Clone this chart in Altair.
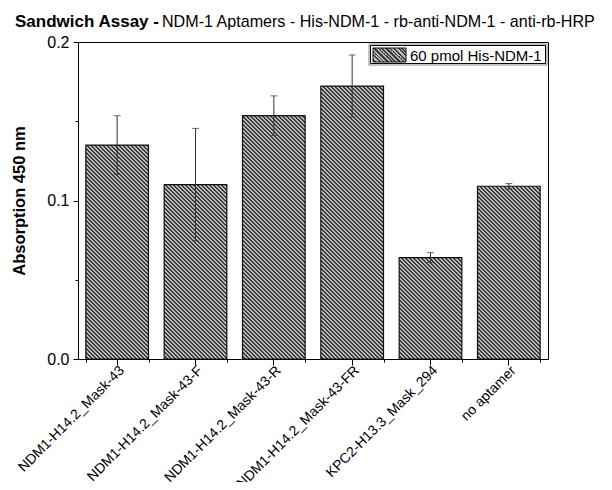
import altair as alt
import pandas as pd

# ---------------- data ----------------
categories = [
    "NDM1-H14.2_Mask-43",
    "NDM1-H14.2_Mask-43-F",
    "NDM1-H14.2_Mask-43-R",
    "NDM1-H14.2_Mask-43-FR",
    "KPC2-H13.3_Mask_294",
    "no aptamer",
]
values = [0.135, 0.110, 0.1535, 0.1722, 0.0640, 0.1090]
errors = [0.0185, 0.0355, 0.0125, 0.0196, 0.0031, 0.0017]
y_ticks = [0.0, 0.1, 0.2]
y_minor = [0.05, 0.15]
series_name = "60 pmol His-NDM-1"
title_bold = "Sandwich Assay -"
title_rest = "NDM-1 Aptamers - His-NDM-1 - rb-anti-NDM-1 - anti-rb-HRP"
y_title = "Absorption 450 nm"

# ---------------- layout / style ----------------
FONT = "Liberation Sans"
W, H = 470, 317
YMAX = 0.2
PAD_IN, PAD_OUT = 0.2, 0.1
LIGHT, DARK = "#bdbdbd", "#3a3a3a"

df = pd.DataFrame({"cat": categories, "v": values, "e": errors})
df["lo"] = df["v"] - df["e"]
df["hi"] = df["v"] + df["e"]

step = W / (len(categories) - PAD_IN + 2 * PAD_OUT)
bw = step * (1 - PAD_IN)


def hatch(w, h, period=4.0, dark=0.5):
    """45-degree '\\' stripes as a bbox-relative linear gradient (exact pixel period)."""
    k = (w + h) / (w * w + h * h)
    dt = period / (w + h)
    stops = []
    a = 0.0
    while a < 1.0:
        b = min(a + dt * (1 - dark), 1.0)
        c = min(a + dt, 1.0)
        stops += [
            {"offset": round(a, 6), "color": LIGHT},
            {"offset": round(b, 6), "color": LIGHT},
            {"offset": round(b, 6), "color": DARK},
            {"offset": round(c, 6), "color": DARK},
        ]
        a += dt
    return {"gradient": "linear", "x1": 0, "y1": 1, "x2": k * w, "y2": 1 - k * h, "stops": stops}


xscale = alt.Scale(domain=categories, paddingInner=PAD_IN, paddingOuter=PAD_OUT, round=False)
yscale = alt.Scale(domain=[0, YMAX], nice=False, round=False)

x_main = alt.X(
    "cat:N", sort=categories, scale=xscale,
    axis=alt.Axis(
        title=None, labelAngle=-45, labelFontSize=14, labelFont=FONT, labelColor="black",
        tickSize=6, tickColor="black", labelPadding=3, labelOffset=5, domainColor="black",
        orient="bottom", labelAlign="right", labelBaseline="middle",
    ),
)
y_main = alt.Y(
    "v:Q", scale=yscale,
    axis=alt.Axis(
        values=y_ticks, format=".1f", tickSize=5, tickColor="black", labelPadding=4,
        labelFontSize=16, labelFont=FONT, labelColor="black",
        title=y_title, titleFontSize=16.5, titleFont=FONT, titleFontWeight="bold",
        titleColor="black", titlePadding=19, domainColor="black", orient="left", grid=False,
    ),
)
x_none = alt.X("cat:N", sort=categories, scale=xscale, axis=None)

layers = []
for i, c in enumerate(categories):
    h = values[i] / YMAX * H
    enc_x = x_main if i == 0 else x_none
    enc_y = y_main if i == 0 else alt.Y("v:Q", scale=yscale, axis=None)
    layers.append(
        alt.Chart(df)
        .transform_filter(alt.datum.cat == c)
        .mark_bar(fill=hatch(bw, h), stroke="#111111", strokeWidth=1.2)
        .encode(x=enc_x, y=enc_y)
    )

# error bars + minor ticks (separate axes)
minor = alt.Chart(df).mark_rule(color="#333333", strokeWidth=1).encode(
    x=alt.X("cat:N", sort=categories, scale=xscale,
            axis=alt.Axis(tickBand="extent", labels=False, domain=False, tickSize=3,
                          tickColor="black", title=None, orient="bottom", grid=False)),
    y=alt.Y("lo:Q", scale=yscale,
            axis=alt.Axis(values=y_minor, labels=False, domain=False, tickSize=3,
                          tickColor="black", title=None, orient="left", grid=False)),
    y2="hi:Q",
)
cap_lo = alt.Chart(df).mark_tick(size=7, thickness=1, color="#333333").encode(
    x=x_none, y=alt.Y("lo:Q", scale=yscale, axis=None))
cap_hi = alt.Chart(df).mark_tick(size=7, thickness=1, color="#333333").encode(
    x=x_none, y=alt.Y("hi:Q", scale=yscale, axis=None))

# legend (manual, hatched symbol)
one = pd.DataFrame({"t": [series_name]})
leg_outer = alt.Chart(one).mark_rect(fill="white", stroke="#888888", strokeWidth=1).encode(
    x=alt.value(291), x2=alt.value(469), y=alt.value(2), y2=alt.value(23))
leg_inner = alt.Chart(one).mark_rect(fill="white", stroke="black", strokeWidth=1).encode(
    x=alt.value(292.5), x2=alt.value(467.5), y=alt.value(3.5), y2=alt.value(21.5))
leg_sym = alt.Chart(one).mark_rect(fill=hatch(33, 14), stroke="#111111", strokeWidth=1).encode(
    x=alt.value(295), x2=alt.value(328), y=alt.value(6), y2=alt.value(20))
leg_txt = alt.Chart(one).mark_text(align="left", baseline="alphabetic", fontSize=15,
                                   font=FONT, color="black").encode(
    x=alt.value(332), y=alt.value(18.5), text="t:N")

# title as two text runs
t1 = alt.Chart(pd.DataFrame({"t": [title_bold]})).mark_text(
    align="left", baseline="alphabetic", fontSize=17, font=FONT, fontWeight="bold", color="black"
).encode(x=alt.value(-63), y=alt.value(-15), text="t:N")
t2 = alt.Chart(pd.DataFrame({"t": [title_rest]})).mark_text(
    align="left", baseline="alphabetic", fontSize=16.1, font=FONT, color="black"
).encode(x=alt.value(84), y=alt.value(-15), text="t:N")

chart = (
    alt.layer(*layers, minor, cap_lo, cap_hi, leg_outer, leg_inner, leg_sym, leg_txt, t1, t2)
    .resolve_axis(x="independent", y="independent")
    .properties(
        width=W, height=H,
        autosize=alt.AutoSizeParams(type="none"),
        padding={"left": 70, "top": 34, "right": 56, "bottom": 123},
    )
    .configure_view(stroke="black", strokeWidth=1)
    .configure_axis(domainWidth=1, tickWidth=1)
)

chart.save("out.html", embed_options={"renderer": "svg", "actions": False})
